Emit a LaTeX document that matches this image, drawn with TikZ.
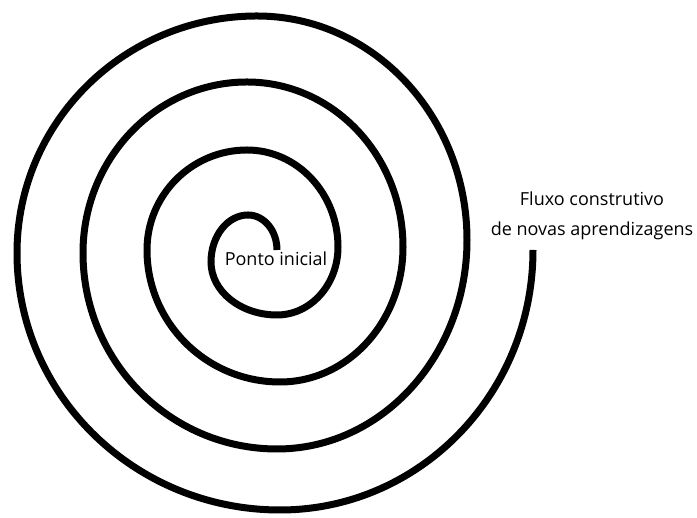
\documentclass[tikz,border=0pt]{standalone}
\usepackage{fontspec}
\setmainfont{Open Sans}
\usepackage{tikz}
\usetikzlibrary{positioning}

\tikzset{
  espiral/.style={line width=7pt, line cap=butt, black},
  rotulo/.style={align=center, font=\fontsize{18}{30}\selectfont, inner sep=0pt}
}

\begin{document}
\begin{tikzpicture}[x=1pt, y=1pt]
  \useasboundingbox (0,0) rectangle (697,518);
  % Espiral (de dentro para fora)
  \coordinate (inicio) at (277,268);
  \draw[espiral] (inicio)
    arc[start angle=0,   end angle=90,  x radius=29,  y radius=35]
    arc[start angle=90,  end angle=180, x radius=37,  y radius=47]
    arc[start angle=180, end angle=270, x radius=66,  y radius=53]
    arc[start angle=270, end angle=360, x radius=61,  y radius=68]
    arc[start angle=0,   end angle=90,  x radius=91,  y radius=97]
    arc[start angle=90,  end angle=180, x radius=100, y radius=100]
    arc[start angle=180, end angle=270, x radius=133, y radius=132]
    arc[start angle=270, end angle=360, x radius=123, y radius=135]
    arc[start angle=0,   end angle=90,  x radius=156, y radius=165]
    arc[start angle=90,  end angle=180, x radius=164, y radius=171]
    arc[start angle=180, end angle=270, x radius=194, y radius=196]
    arc[start angle=270, end angle=360, x radius=190, y radius=209]
    arc[start angle=0,   end angle=90,  x radius=210, y radius=224]
    arc[start angle=90,  end angle=180, x radius=240, y radius=237]
    arc[start angle=180, end angle=270, x radius=263, y radius=257]
    arc[start angle=270, end angle=360, x radius=253, y radius=260]
    coordinate (fim);
  % Rotulos
  \node[rotulo] (ponto) at (276,259) {Ponto inicial};
  \node[rotulo] (fluxo) at (592,302) {Fluxo construtivo\\de novas aprendizagens};
\end{tikzpicture}
\end{document}
